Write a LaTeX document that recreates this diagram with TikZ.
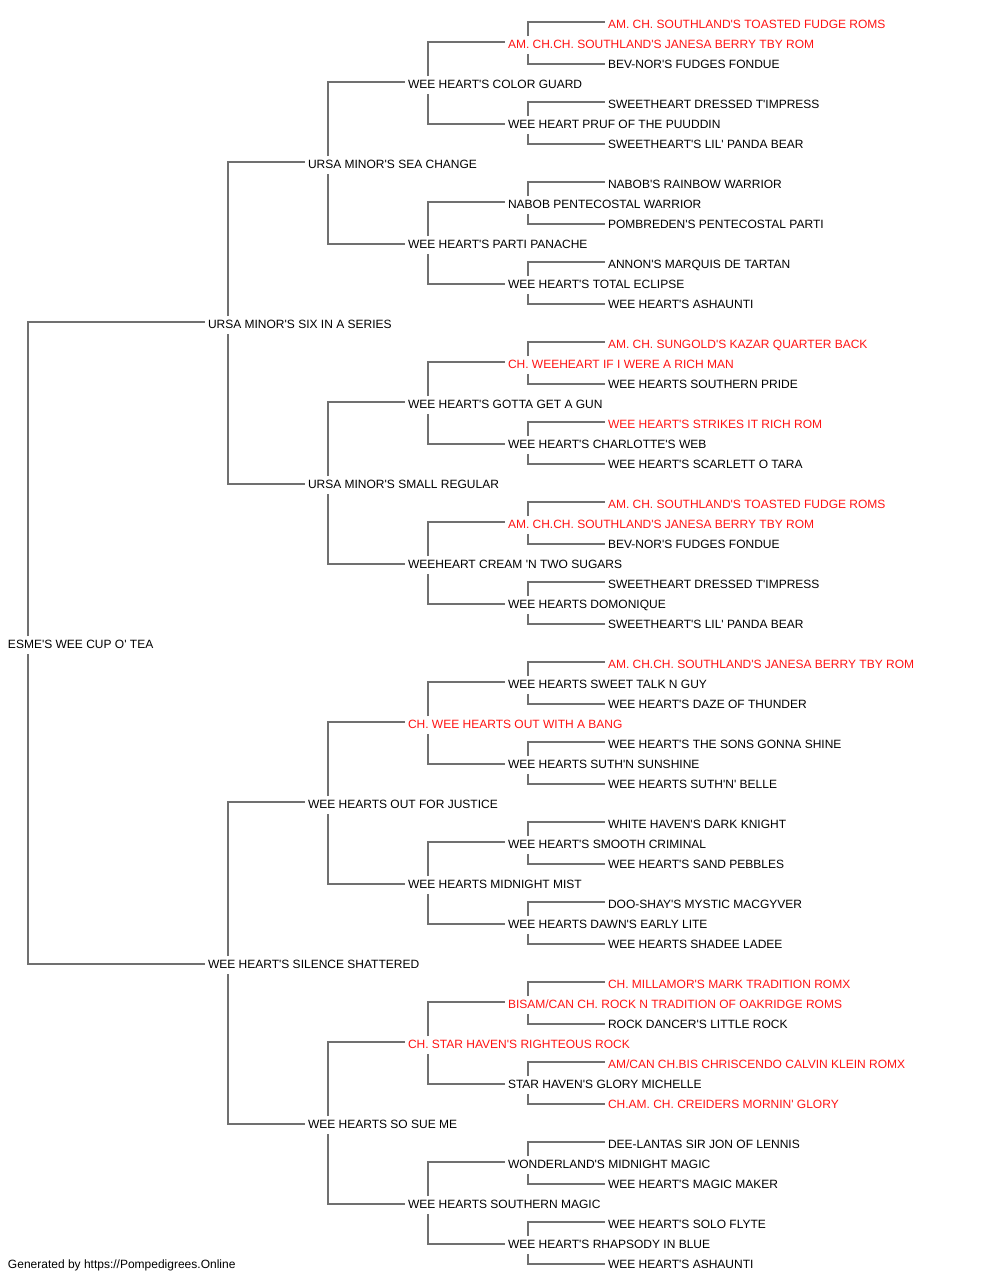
\documentclass[tikz,border=0pt]{standalone}
\usepackage{fontspec}
\setmainfont{Liberation Sans}[Ligatures=TeXOff]
\usetikzlibrary{calc}
\definecolor{pedred}{RGB}{255,20,20}
\definecolor{linkgray}{RGB}{112,112,112}
\tikzset{
  nm/.style={anchor=west, inner sep=0pt, outer sep=0pt, text height=10.6pt, text depth=0pt,
    font=\fontsize{12}{14}\selectfont, text=black},
  rd/.style={nm, text=pedred},
  link/.style={draw=linkgray, line width=1.3pt}
}
\begin{document}
\begin{tikzpicture}[x=1pt,y=-1pt]
\useasboundingbox[fill=white] (0,0) rectangle (1000,1280);
% generation 0
\node[nm] (n1) at (8,643) {ESME'S WEE CUP O' TEA};
% generation 1
\node[nm] (n2) at (208,323) {URSA MINOR'S SIX IN A SERIES};
\node[nm] (n3) at (208,963) {WEE HEART'S SILENCE SHATTERED};
% generation 2
\node[nm] (n4) at (308,163) {URSA MINOR'S SEA CHANGE};
\node[nm] (n5) at (308,483) {URSA MINOR'S SMALL REGULAR};
\node[nm] (n6) at (308,803) {WEE HEARTS OUT FOR JUSTICE};
\node[nm] (n7) at (308,1123) {WEE HEARTS SO SUE ME};
% generation 3
\node[nm] (n8) at (408,83) {WEE HEART'S COLOR GUARD};
\node[nm] (n9) at (408,243) {WEE HEART'S PARTI PANACHE};
\node[nm] (n10) at (408,403) {WEE HEART'S GOTTA GET A GUN};
\node[nm] (n11) at (408,563) {WEEHEART CREAM 'N TWO SUGARS};
\node[rd] (n12) at (408,723) {CH. WEE HEARTS OUT WITH A BANG};
\node[nm] (n13) at (408,883) {WEE HEARTS MIDNIGHT MIST};
\node[rd] (n14) at (408,1043) {CH. STAR HAVEN'S RIGHTEOUS ROCK};
\node[nm] (n15) at (408,1203) {WEE HEARTS SOUTHERN MAGIC};
% generation 4
\node[rd] (n16) at (508,43) {AM. CH.CH. SOUTHLAND'S JANESA BERRY TBY ROM};
\node[nm] (n17) at (508,123) {WEE HEART PRUF OF THE PUUDDIN};
\node[nm] (n18) at (508,203) {NABOB PENTECOSTAL WARRIOR};
\node[nm] (n19) at (508,283) {WEE HEART'S TOTAL ECLIPSE};
\node[rd] (n20) at (508,363) {CH. WEEHEART IF I WERE A RICH MAN};
\node[nm] (n21) at (508,443) {WEE HEART'S CHARLOTTE'S WEB};
\node[rd] (n22) at (508,523) {AM. CH.CH. SOUTHLAND'S JANESA BERRY TBY ROM};
\node[nm] (n23) at (508,603) {WEE HEARTS DOMONIQUE};
\node[nm] (n24) at (508,683) {WEE HEARTS SWEET TALK N GUY};
\node[nm] (n25) at (508,763) {WEE HEARTS SUTH'N SUNSHINE};
\node[nm] (n26) at (508,843) {WEE HEART'S SMOOTH CRIMINAL};
\node[nm] (n27) at (508,923) {WEE HEARTS DAWN'S EARLY LITE};
\node[rd] (n28) at (508,1003) {BISAM/CAN CH. ROCK N TRADITION OF OAKRIDGE ROMS};
\node[nm] (n29) at (508,1083) {STAR HAVEN'S GLORY MICHELLE};
\node[nm] (n30) at (508,1163) {WONDERLAND'S MIDNIGHT MAGIC};
\node[nm] (n31) at (508,1243) {WEE HEART'S RHAPSODY IN BLUE};
% generation 5
\node[rd] (n32) at (608,23) {AM. CH. SOUTHLAND'S TOASTED FUDGE ROMS};
\node[nm] (n33) at (608,63) {BEV-NOR'S FUDGES FONDUE};
\node[nm] (n34) at (608,103) {SWEETHEART DRESSED T'IMPRESS};
\node[nm] (n35) at (608,143) {SWEETHEART'S LIL' PANDA BEAR};
\node[nm] (n36) at (608,183) {NABOB'S RAINBOW WARRIOR};
\node[nm] (n37) at (608,223) {POMBREDEN'S PENTECOSTAL PARTI};
\node[nm] (n38) at (608,263) {ANNON'S MARQUIS DE TARTAN};
\node[nm] (n39) at (608,303) {WEE HEART'S ASHAUNTI};
\node[rd] (n40) at (608,343) {AM. CH. SUNGOLD'S KAZAR QUARTER BACK};
\node[nm] (n41) at (608,383) {WEE HEARTS SOUTHERN PRIDE};
\node[rd] (n42) at (608,423) {WEE HEART'S STRIKES IT RICH ROM};
\node[nm] (n43) at (608,463) {WEE HEART'S SCARLETT O TARA};
\node[rd] (n44) at (608,503) {AM. CH. SOUTHLAND'S TOASTED FUDGE ROMS};
\node[nm] (n45) at (608,543) {BEV-NOR'S FUDGES FONDUE};
\node[nm] (n46) at (608,583) {SWEETHEART DRESSED T'IMPRESS};
\node[nm] (n47) at (608,623) {SWEETHEART'S LIL' PANDA BEAR};
\node[rd] (n48) at (608,663) {AM. CH.CH. SOUTHLAND'S JANESA BERRY TBY ROM};
\node[nm] (n49) at (608,703) {WEE HEART'S DAZE OF THUNDER};
\node[nm] (n50) at (608,743) {WEE HEART'S THE SONS GONNA SHINE};
\node[nm] (n51) at (608,783) {WEE HEARTS SUTH'N' BELLE};
\node[nm] (n52) at (608,823) {WHITE HAVEN'S DARK KNIGHT};
\node[nm] (n53) at (608,863) {WEE HEART'S SAND PEBBLES};
\node[nm] (n54) at (608,903) {DOO-SHAY'S MYSTIC MACGYVER};
\node[nm] (n55) at (608,943) {WEE HEARTS SHADEE LADEE};
\node[rd] (n56) at (608,983) {CH. MILLAMOR'S MARK TRADITION ROMX};
\node[nm] (n57) at (608,1023) {ROCK DANCER'S LITTLE ROCK};
\node[rd] (n58) at (608,1063) {AM/CAN CH.BIS CHRISCENDO CALVIN KLEIN ROMX};
\node[rd] (n59) at (608,1103) {CH.AM. CH. CREIDERS MORNIN' GLORY};
\node[nm] (n60) at (608,1143) {DEE-LANTAS SIR JON OF LENNIS};
\node[nm] (n61) at (608,1183) {WEE HEART'S MAGIC MAKER};
\node[nm] (n62) at (608,1223) {WEE HEART'S SOLO FLYTE};
\node[nm] (n63) at (608,1263) {WEE HEART'S ASHAUNTI};
% footer
\node[nm] (footer) at (8,1263) {Generated by https://Pompedigrees.Online};
% connectors
\foreach \p [evaluate=\p as \s using {int(2*\p)}, evaluate=\p as \d using {int(2*\p+1)}] in {1,...,31} {
  \draw[link] ($(n\p.west)+(20,-7)$) |- ($(n\s.west)+(-3,-1)$);
  \draw[link] ($(n\p.west)+(20,11)$) |- ($(n\d.west)+(-3,1)$);
}
\end{tikzpicture}
\end{document}
